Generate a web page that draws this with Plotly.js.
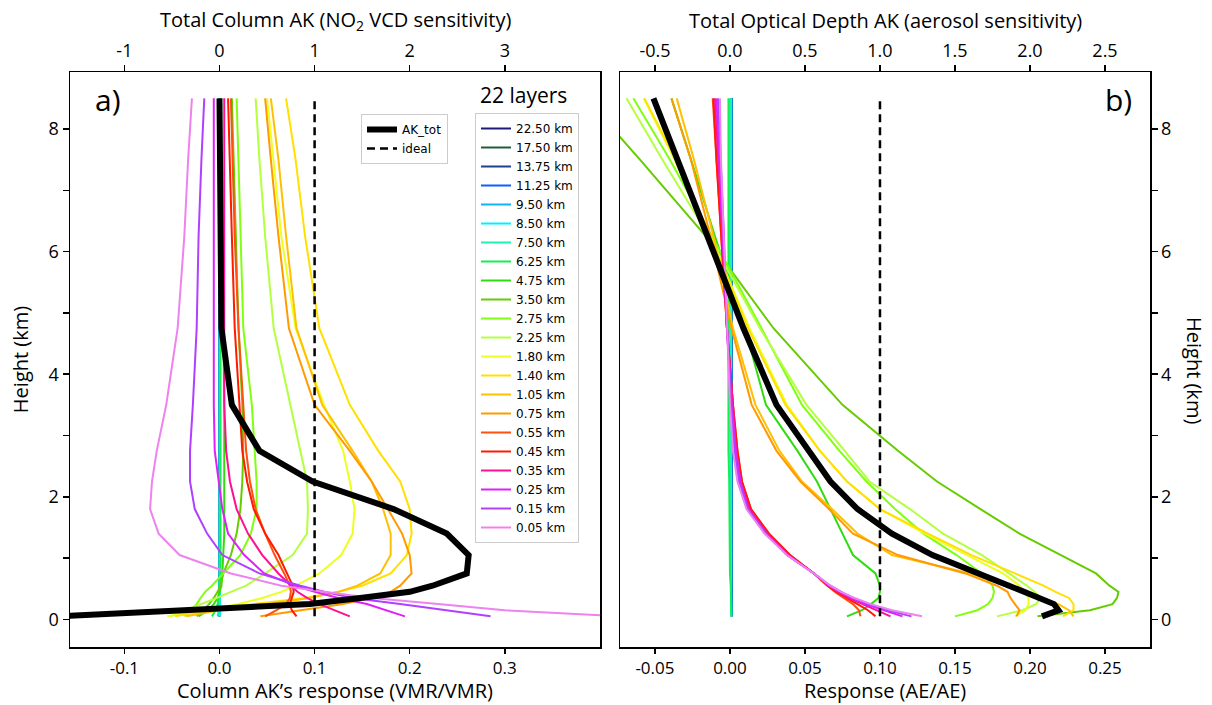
<!DOCTYPE html>
<html>
<head>
<meta charset="utf-8">
<script src="https://cdn.plot.ly/plotly-3.0.1.min.js"></script>
<style>html,body{margin:0;padding:0;background:#fff;}#chart{width:1212px;height:705px;}</style>
</head>
<body>
<div id="chart"></div>
<script>
// ---------- DATA ----------
// heights (km) of the plotted levels
const heights = [0.05,0.15,0.25,0.35,0.45,0.55,0.75,1.05,1.40,1.80,2.25,2.75,3.50,4.75,6.25,7.50,8.50];
const layerNames = ['22.50 km','17.50 km','13.75 km','11.25 km','9.50 km','8.50 km','7.50 km','6.25 km','4.75 km','3.50 km','2.75 km','2.25 km','1.80 km','1.40 km','1.05 km','0.75 km','0.55 km','0.45 km','0.35 km','0.25 km','0.15 km','0.05 km'];
const layerColors = ['#1c1c78','#1f5c3a','#1f3f8f','#0f5fff','#10b4f0','#00f0ff','#20f0b4','#10f050','#30dc10','#66cc00','#80ff10','#b4ff40','#ecff20','#ffe000','#ffc000','#ff9a00','#ff5010','#ff1a00','#ff1090','#e020f8','#b040ff','#ee82ee'];

// panel a) column AK response (VMR/VMR), one array per perturbed layer
const col_22_50 = [0,0,0,0,0,0,0,0,0,0,0,0,0,0,0,0,0];
const col_17_50 = [0,0,0,0,0,0,0,0,0,0,0,0,0,0,0,0,0];
const col_13_75 = [0,0,0,0,0,0,0,0,0,0,0,0,0,0,0,0,0];
const col_11_25 = [0,0,0,0,0,0,0,0,0,0,0,0,0,0,0,0,0];
const col_9_50  = [0,0,0,0,0,0,0,0,0,0,0,0,0,0,0,0,0];
const col_8_50  = [0.0005,0.0005,0.0005,0.0005,0.0005,0.0005,0.0005,0.0005,0.0005,0.0005,0.0005,0.0005,0.0005,0.0005,0.0005,0.0005,0.0005];
const col_7_50  = [-0.002,-0.001,0,0,0,0,0,0.0005,0.0005,0.0005,0.0005,0.0005,0.0005,0.0005,0.0005,0.0005,0.0005];
const col_6_25  = [-0.008,-0.004,-0.002,-0.001,0,0,0.001,0.001,0.001,0.001,0.001,0.001,0.001,0.001,0.001,0.001,0.001];
const col_4_75  = [-0.022,-0.012,-0.006,-0.002,0,0.002,0.003,0.004,0.005,0.005,0.005,0.005,0.005,0.004,0.003,0.002,0.001];
const col_3_50  = [-0.024,-0.017,-0.011,-0.006,-0.002,0.001,0.004,0.012,0.018,0.022,0.024,0.025,0.024,0.020,0.017,0.015,0.013];
const col_2_75  = [-0.037,-0.030,-0.024,-0.020,-0.015,-0.008,0.004,0.022,0.033,0.039,0.039,0.037,0.034,0.025,0.022,0.020,0.018];
const col_2_25  = [-0.052,-0.035,-0.018,-0.003,0.012,0.028,0.048,0.077,0.092,0.093,0.092,0.085,0.074,0.057,0.048,0.042,0.038];
const col_1_80  = [-0.055,-0.015,0.020,0.045,0.065,0.080,0.105,0.128,0.140,0.142,0.137,0.130,0.110,0.080,0.065,0.057,0.050];
const col_1_40  = [-0.047,-0.010,0.035,0.090,0.125,0.150,0.180,0.197,0.202,0.200,0.190,0.167,0.137,0.105,0.090,0.080,0.070];
const col_1_05  = [-0.035,0.000,0.050,0.095,0.125,0.145,0.169,0.180,0.180,0.172,0.160,0.140,0.108,0.081,0.070,0.062,0.054];
const col_0_75  = [0.043,0.085,0.130,0.160,0.180,0.190,0.202,0.200,0.192,0.177,0.160,0.137,0.100,0.073,0.062,0.054,0.048];
const col_0_55  = [0.048,0.060,0.070,0.074,0.075,0.074,0.068,0.058,0.048,0.038,0.032,0.028,0.025,0.020,0.016,0.014,0.012];
const col_0_45  = [0.081,0.076,0.074,0.076,0.078,0.077,0.071,0.062,0.048,0.036,0.029,0.024,0.021,0.016,0.013,0.011,0.009];
const col_0_35  = [0.137,0.120,0.105,0.092,0.082,0.075,0.062,0.045,0.030,0.018,0.011,0.007,0.005,0.005,0.005,0.005,0.005];
const col_0_25  = [0.195,0.175,0.155,0.125,0.100,0.080,0.047,0.026,0.009,0.003,-0.001,-0.005,-0.006,-0.006,-0.006,-0.006,-0.006];
const col_0_15  = [0.285,0.240,0.190,0.140,0.110,0.085,0.042,0.003,-0.013,-0.026,-0.031,-0.031,-0.028,-0.024,-0.022,-0.019,-0.016];
const col_0_05  = [0.420,0.300,0.230,0.160,0.110,0.065,0.012,-0.042,-0.064,-0.073,-0.071,-0.066,-0.056,-0.044,-0.037,-0.033,-0.029];
const colAKtot  = [-0.170,-0.030,0.095,0.148,0.200,0.224,0.260,0.262,0.239,0.183,0.098,0.042,0.013,0.002,0.001,0.0005,0.000];

// panel b) aerosol optical depth response (AE/AE)
const aer_22_50 = [0.0013,0.0013,0.0013,0.0013,0.0013,0.0013,0.0013,0.0013,0.0013,0.0013,0.0013,0.0013,0.0013,0.0013,0.0013,0.0013,0.0013];
const aer_17_50 = [0.0012,0.0012,0.0012,0.0012,0.0012,0.0012,0.0012,0.0012,0.0012,0.0012,0.0012,0.0012,0.0012,0.0012,0.0012,0.0012,0.0012];
const aer_13_75 = [0.0011,0.0011,0.0011,0.0011,0.0011,0.0011,0.0011,0.0011,0.0011,0.0011,0.0011,0.0011,0.0011,0.0011,0.0011,0.0011,0.0011];
const aer_11_25 = [0.0010,0.0010,0.0010,0.0010,0.0010,0.0010,0.0010,0.0010,0.0010,0.0010,0.0010,0.0010,0.0010,0.0010,0.0010,0.0010,0.0010];
const aer_9_50  = [0.0009,0.0009,0.0009,0.0009,0.0009,0.0009,0.0009,0.0009,0.0009,0.0009,0.0009,0.0009,0.0009,0.0009,0.0009,0.0009,0.0009];
const aer_8_50  = [0.0008,0.0008,0.0008,0.0008,0.0008,0.0008,0.0008,0.0008,0.0008,0.0008,0.0008,0.0008,0.0008,0.0008,0.0008,0.0008,0.0008];
const aer_7_50  = [0.0008,0.0008,0.0007,0.0007,0.0006,0.0006,0.0005,0.0005,0.0004,0.0004,0.0003,0.0002,0.0001,0,0,0,0];
const aer_6_25  = [0.0010,0.0010,0.0010,0.0005,0.0005,0.0005,0,0,0,-0.0005,-0.0005,-0.0010,-0.0010,-0.0010,-0.0010,-0.0010,-0.0010];
const aer_4_75  = [0.078,0.088,0.094,0.099,0.100,0.100,0.097,0.082,0.075,0.067,0.058,0.045,0.024,0.010,-0.010,-0.026,-0.039];
const aer_3_50  = [0.205,0.240,0.255,0.258,0.259,0.253,0.244,0.220,0.193,0.167,0.138,0.112,0.075,0.029,-0.016,-0.060,-0.096];
const aer_2_75  = [0.150,0.165,0.172,0.175,0.176,0.175,0.168,0.151,0.129,0.110,0.091,0.073,0.048,0.021,-0.012,-0.040,-0.0644];
const aer_2_25  = [0.178,0.195,0.204,0.207,0.203,0.198,0.186,0.168,0.142,0.120,0.093,0.0765,0.051,0.020,-0.014,-0.045,-0.069];
const aer_1_80  = [0.190,0.197,0.199,0.199,0.197,0.193,0.182,0.158,0.130,0.100,0.078,0.060,0.038,0.013,-0.013,-0.037,-0.0575];
const aer_1_40  = [0.222,0.229,0.229,0.226,0.217,0.209,0.190,0.161,0.132,0.100,0.078,0.060,0.037,0.012,-0.013,-0.036,-0.057];
const aer_1_05  = [0.229,0.226,0.219,0.208,0.197,0.185,0.160,0.108,0.085,0.068,0.048,0.033,0.017,0.002,-0.011,-0.024,-0.0355];
const aer_0_75  = [0.191,0.193,0.190,0.187,0.185,0.178,0.157,0.112,0.082,0.066,0.047,0.031,0.0145,0.001,-0.013,-0.026,-0.039];
const aer_0_55  = [0.087,0.086,0.082,0.076,0.070,0.065,0.056,0.040,0.026,0.014,0.008,0.005,0.002,-0.002,-0.006,-0.009,-0.0115];
const aer_0_45  = [0.097,0.092,0.085,0.078,0.071,0.065,0.056,0.040,0.026,0.014,0.008,0.005,0.002,-0.002,-0.006,-0.009,-0.011];
const aer_0_35  = [0.107,0.098,0.088,0.079,0.072,0.066,0.056,0.039,0.025,0.013,0.007,0.004,0.002,-0.002,-0.005,-0.008,-0.010];
const aer_0_25  = [0.115,0.102,0.090,0.081,0.073,0.066,0.056,0.038,0.024,0.012,0.007,0.004,0.001,-0.002,-0.005,-0.007,-0.009];
const aer_0_15  = [0.121,0.105,0.092,0.082,0.074,0.067,0.056,0.038,0.024,0.012,0.006,0.003,0.001,-0.002,-0.004,-0.006,-0.008];
const aer_0_05  = [0.128,0.108,0.094,0.083,0.074,0.067,0.056,0.038,0.023,0.011,0.005,0.002,0.000,-0.002,-0.004,-0.006,-0.0067];
const aerAKtot  = [0.208,0.219,0.216,0.207,0.196,0.186,0.165,0.135,0.108,0.085,0.067,0.053,0.031,0.009,-0.015,-0.034,-0.051];

// ideal response line
const idealX = [0.1, 0.1];
const idealH = [0.05, 8.50];

// tick labels
const xTicksA = [-0.1,0.0,0.1,0.2,0.3];
const xTickTextA = ['-0.1','0.0','0.1','0.2','0.3'];
const xTopTicksA = [-1,0,1,2,3];
const xTopTextA = ['-1','0','1','2','3'];
const xTicksB = [-0.05,0.00,0.05,0.10,0.15,0.20,0.25];
const xTickTextB = ['-0.05','0.00','0.05','0.10','0.15','0.20','0.25'];
const xTopTicksB = [-0.5,0.0,0.5,1.0,1.5,2.0,2.5];
const xTopTextB = ['-0.5','0.0','0.5','1.0','1.5','2.0','2.5'];
const yTicks = [0,2,4,6,8];
const yTickText = ['0','2','4','6','8'];
const yMinorTicks = [1,3,5,7];

// ---------- CHART ----------
const colSeries = [col_22_50,col_17_50,col_13_75,col_11_25,col_9_50,col_8_50,col_7_50,col_6_25,col_4_75,col_3_50,col_2_75,col_2_25,col_1_80,col_1_40,col_1_05,col_0_75,col_0_55,col_0_45,col_0_35,col_0_25,col_0_15,col_0_05];
const aerSeries = [aer_22_50,aer_17_50,aer_13_75,aer_11_25,aer_9_50,aer_8_50,aer_7_50,aer_6_25,aer_4_75,aer_3_50,aer_2_75,aer_2_25,aer_1_80,aer_1_40,aer_1_05,aer_0_75,aer_0_55,aer_0_45,aer_0_35,aer_0_25,aer_0_15,aer_0_05];

const traces = [];
layerNames.forEach((nm, i) => {
  traces.push({type:'scatter', mode:'lines', x: colSeries[i], y: heights, xaxis:'x', yaxis:'y',
    name: nm, legend:'legend2', legendgroup: nm, line:{color: layerColors[i], width:2}});
});
layerNames.forEach((nm, i) => {
  traces.push({type:'scatter', mode:'lines', x: aerSeries[i], y: heights, xaxis:'x2', yaxis:'y2',
    name: nm, legendgroup: nm, showlegend:false, line:{color: layerColors[i], width:2}});
});
traces.push({type:'scatter', mode:'lines', x: colAKtot, y: heights, xaxis:'x', yaxis:'y', name:'AK_tot', legend:'legend', line:{color:'black', width:6}});
traces.push({type:'scatter', mode:'lines', x: idealX, y: idealH, xaxis:'x', yaxis:'y', name:'ideal', legend:'legend', line:{color:'black', width:2.5, dash:'8px,5px'}});
traces.push({type:'scatter', mode:'lines', x: aerAKtot, y: heights, xaxis:'x2', yaxis:'y2', name:'AK_tot', showlegend:false, line:{color:'black', width:6}});
traces.push({type:'scatter', mode:'lines', x: idealX, y: idealH, xaxis:'x2', yaxis:'y2', name:'ideal', showlegend:false, line:{color:'black', width:2.5, dash:'8px,5px'}});
// empty traces so the top (twin) axes get their subplots
traces.push({type:'scatter', mode:'lines', x: [], y: [], xaxis:'x3', yaxis:'y', showlegend:false, hoverinfo:'skip'});
traces.push({type:'scatter', mode:'lines', x: [], y: [], xaxis:'x4', yaxis:'y2', showlegend:false, hoverinfo:'skip'});

const FONT = 'Open Sans, Lato, sans-serif';
const W = 1212, Hh = 705;
const domA = [70/W, 600/W], domB = [620/W, 1150/W];
const domY = [1-647/Hh, 1-72/Hh];
const rangeA = [-0.1572, 0.4001], rangeB = [-0.0733, 0.2800];
const rangeY = [-0.45, 8.93];
const TITLE_FONT = {family:FONT, size:20, color:'black'};

function axisBase(extra){
  return Object.assign({showgrid:false, zeroline:false, showline:true, linecolor:'black', linewidth:1.5,
    ticks:'outside', ticklen:6, tickwidth:1.5, tickcolor:'black', tickmode:'array',
    tickfont:{family:FONT, size:18, color:'black'}}, extra);
}
const BOTTOM_TICKFONT = {family:FONT, size:17, color:'black'};
const yMinor = {tickmode:'array', tickvals:yMinorTicks, ticks:'outside', ticklen:6, tickwidth:1.5, tickcolor:'black', showgrid:false};

function titleAnn(text, xPx, yPx, angle){
  return {text:text, xref:'paper', yref:'paper', x:xPx/W, y:1-yPx/Hh, xanchor:'center', yanchor:'middle',
    showarrow:false, borderpad:0, textangle:angle||0, font:TITLE_FONT};
}

const layout = {
  width: W, height: Hh,
  margin:{l:0, r:0, t:0, b:0},
  paper_bgcolor:'white', plot_bgcolor:'white',
  font:{family:FONT, color:'black'},
  showlegend:true,
  xaxis: axisBase({domain:domA, range:rangeA, anchor:'y', side:'bottom', tickvals:xTicksA, ticktext:xTickTextA, ticklen:5, tickfont:BOTTOM_TICKFONT}),
  xaxis3: axisBase({domain:domA, range:[rangeA[0]*10, rangeA[1]*10], anchor:'y', overlaying:'x', side:'top', tickvals:xTopTicksA, ticktext:xTopTextA}),
  yaxis: axisBase({domain:domY, range:rangeY, anchor:'x', side:'left', mirror:true, tickvals:yTicks, ticktext:yTickText, minor:yMinor,
    title:{text:'Height (km)', font:TITLE_FONT, standoff:14}}),
  xaxis2: axisBase({domain:domB, range:rangeB, anchor:'y2', side:'bottom', tickvals:xTicksB, ticktext:xTickTextB, ticklen:5, tickfont:BOTTOM_TICKFONT}),
  xaxis4: axisBase({domain:domB, range:[rangeB[0]*10, rangeB[1]*10], anchor:'y2', overlaying:'x2', side:'top', tickvals:xTopTicksB, ticktext:xTopTextB}),
  yaxis2: axisBase({domain:domY, range:rangeY, anchor:'x2', side:'right', mirror:true, tickvals:yTicks, ticktext:yTickText, minor:yMinor}),
  legend:{x:361/W, y:1-114/Hh, xanchor:'left', yanchor:'top', bgcolor:'white', bordercolor:'#cccccc', borderwidth:1,
    font:{family:'DejaVu Sans', size:12, color:'black'}, itemwidth:30, tracegroupgap:0},
  legend2:{x:475/W, y:1-113/Hh, xanchor:'left', yanchor:'top', bgcolor:'white', bordercolor:'#cccccc', borderwidth:1,
    font:{family:'DejaVu Sans', size:12, color:'black'}, itemwidth:30, tracegroupgap:0},
  annotations:[
    titleAnn('Column AK\u2019s response (VMR/VMR)', 335, 690),
    titleAnn('Total Column AK (NO<sub>2</sub> VCD sensitivity)', 335, 20),
    titleAnn('Response (AE/AE)', 885, 690),
    titleAnn('Total Optical Depth AK (aerosol sensitivity)', 885, 20),
    titleAnn('Height (km)', 1195, 370, 90),
    {text:'a)', xref:'paper', yref:'paper', x:108/W, y:1-100/Hh, xanchor:'center', yanchor:'middle', showarrow:false, font:{family:FONT, size:30, color:'black'}},
    {text:'b)', xref:'paper', yref:'paper', x:1118/W, y:1-100/Hh, xanchor:'center', yanchor:'middle', showarrow:false, font:{family:FONT, size:30, color:'black'}},
    {text:'22 layers', xref:'paper', yref:'paper', x:523/W, y:1-95/Hh, xanchor:'center', yanchor:'middle', showarrow:false, font:{family:FONT, size:21, color:'black'}}
  ]
};

Plotly.newPlot('chart', traces, layout, {displayModeBar:false, staticPlot:true});
</script>
</body>
</html>
